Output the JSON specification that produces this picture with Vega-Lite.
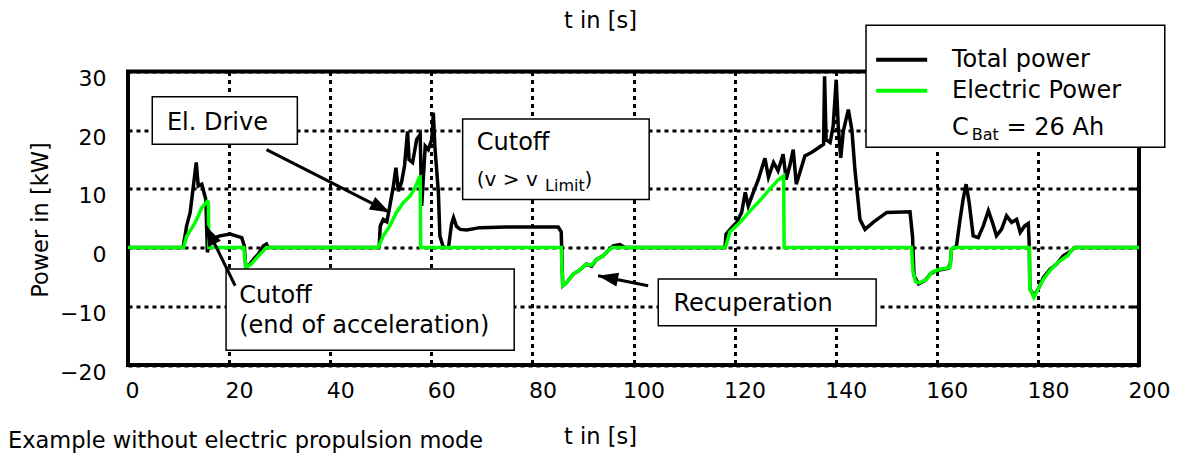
{
  "$schema": "https://vega.github.io/schema/vega-lite/v6.json",
  "width": 1011,
  "height": 293.5,
  "autosize": {"type": "none"},
  "padding": {"left": 128, "top": 71.5, "right": 47, "bottom": 91},
  "background": "white",
  "config": {
    "font": "DejaVu Sans",
    "view": {"stroke": "black", "strokeWidth": 4},
    "axis": {"labelFont": "DejaVu Sans", "titleFont": "DejaVu Sans", "labelFontSize": 22, "titleFontSize": 22.5, "titleFontWeight": "normal", "labelColor": "black", "titleColor": "black"},
    "title": {"font": "DejaVu Sans", "fontSize": 22.5, "fontWeight": "normal", "color": "black"}
  },
  "title": {"text": "Example without electric propulsion mode", "orient": "bottom", "anchor": "start", "frame": "group", "dx": -120, "baseline": "alphabetic", "offset": 0},
  "datasets": {
    "total": [
      {"t":0,"p":0},{"t":10.9,"p":0},{"t":11.6,"p":3.7},{"t":12.3,"p":6.0},{"t":13.5,"p":14.5},{"t":13.9,"p":10.5},{"t":14.6,"p":10.8},{"t":15.4,"p":8.2},{"t":15.7,"p":-0.8},{"t":16.2,"p":1.4},{"t":18.2,"p":2.0},{"t":20.2,"p":2.3},{"t":22.5,"p":1.7},{"t":23.0,"p":0.3},{"t":23.3,"p":-3.4},{"t":24.1,"p":-2.8},{"t":25.1,"p":-1.7},{"t":25.8,"p":-1.1},{"t":26.8,"p":0.3},{"t":27.4,"p":0.6},{"t":27.7,"p":0},
      {"t":49.5,"p":0},{"t":49.7,"p":0.3},{"t":49.9,"p":3.7},{"t":50.5,"p":4.8},{"t":51.2,"p":4.4},{"t":51.8,"p":7.1},{"t":52.5,"p":10.5},{"t":53.0,"p":13.6},{"t":53.5,"p":9.6},{"t":54.1,"p":11.1},{"t":54.7,"p":13.9},{"t":55.3,"p":19.8},{"t":55.6,"p":15.0},{"t":56.3,"p":14.5},{"t":57.1,"p":18.4},{"t":57.8,"p":19.3},{"t":58.1,"p":7.1},{"t":58.8,"p":17.3},{"t":59.4,"p":16.7},{"t":60.1,"p":18.4},{"t":60.4,"p":23.0},{"t":60.7,"p":17.3},{"t":61.4,"p":9.4},{"t":61.7,"p":2.0},{"t":62.4,"p":0},{"t":63.4,"p":0},{"t":64.0,"p":4.0},{"t":64.4,"p":5.1},{"t":65.0,"p":3.6},{"t":65.7,"p":3.1},{"t":67.0,"p":3.0},{"t":69.6,"p":3.4},{"t":74.9,"p":3.5},{"t":85.1,"p":3.5},{"t":85.7,"p":2.7},{"t":86.0,"p":-6.5},{"t":86.7,"p":-6.0},{"t":88.1,"p":-4.5},{"t":89.4,"p":-3.8},{"t":90.7,"p":-2.8},{"t":91.7,"p":-3.2},{"t":92.7,"p":-2.0},{"t":94.0,"p":-1.4},{"t":95.0,"p":-0.5},{"t":96.0,"p":0.3},{"t":97.3,"p":0.5},{"t":98.3,"p":0},
      {"t":118.1,"p":0},{"t":118.3,"p":2.3},{"t":119.1,"p":3.1},{"t":120.4,"p":4.3},{"t":121.4,"p":6.0},{"t":122.1,"p":9.4},{"t":122.7,"p":7.1},{"t":123.7,"p":9.4},{"t":124.7,"p":11.6},{"t":125.3,"p":13.3},{"t":126.0,"p":15.2},{"t":126.7,"p":12.0},{"t":127.7,"p":14.5},{"t":128.6,"p":13.1},{"t":129.6,"p":15.9},{"t":130.2,"p":11.6},{"t":130.9,"p":13.9},{"t":131.6,"p":16.7},{"t":132.2,"p":10.8},{"t":133.3,"p":13.9},{"t":133.9,"p":15.6},{"t":135.2,"p":16.2},{"t":136.6,"p":17.0},{"t":137.6,"p":17.6},{"t":137.8,"p":29.2},{"t":138.1,"p":18.4},{"t":138.9,"p":17.9},{"t":139.5,"p":20.7},{"t":140.1,"p":28.6},{"t":140.5,"p":20.7},{"t":141.0,"p":15.3},{"t":141.5,"p":19.8},{"t":142.5,"p":23.5},{"t":143.2,"p":20.1},{"t":143.8,"p":13.3},{"t":144.8,"p":4.8},{"t":145.8,"p":3.1},{"t":147.4,"p":4.3},{"t":150.1,"p":6.0},{"t":154.7,"p":6.1},{"t":155.2,"p":1.9},{"t":155.5,"p":-4.8},{"t":156.4,"p":-6.2},{"t":157.7,"p":-5.6},{"t":158.7,"p":-4.5},{"t":160.0,"p":-3.9},{"t":162.3,"p":-3.5},{"t":162.7,"p":-2.6},{"t":162.9,"p":-0.3},{"t":163.9,"p":0.3},{"t":164.6,"p":4.8},{"t":165.2,"p":8.2},{"t":165.8,"p":10.8},{"t":166.4,"p":7.7},{"t":167.2,"p":2.0},{"t":168.2,"p":1.7},{"t":169.2,"p":3.7},{"t":170.2,"p":6.3},{"t":171.0,"p":4.3},{"t":171.8,"p":2.0},{"t":172.8,"p":3.1},{"t":173.8,"p":5.4},{"t":174.8,"p":4.3},{"t":175.8,"p":4.8},{"t":176.5,"p":2.6},{"t":177.4,"p":3.7},{"t":178.1,"p":4.1},{"t":178.3,"p":0.3},{"t":178.4,"p":-7.0},{"t":179.2,"p":-8.2},{"t":180.1,"p":-7.0},{"t":181.1,"p":-5.1},{"t":182.4,"p":-3.7},{"t":183.7,"p":-2.8},{"t":185.0,"p":-1.4},{"t":186.0,"p":-0.9},{"t":186.6,"p":-0.5},{"t":187.3,"p":0},{"t":200,"p":0}
    ],
    "electric": [
      {"t":0,"p":0},{"t":11.0,"p":0},{"t":11.6,"p":1.9},{"t":13.3,"p":4.3},{"t":14.6,"p":6.8},{"t":15.7,"p":7.9},{"t":15.9,"p":7.7},{"t":16.0,"p":0},{"t":22.9,"p":0},{"t":23.3,"p":-3.4},{"t":24.4,"p":-2.8},{"t":25.5,"p":-1.7},{"t":26.4,"p":-0.9},{"t":27.4,"p":0},
      {"t":49.5,"p":0},{"t":50.5,"p":2.0},{"t":51.8,"p":3.7},{"t":53.1,"p":6.0},{"t":54.5,"p":7.7},{"t":55.8,"p":8.8},{"t":56.8,"p":10.2},{"t":57.6,"p":11.9},{"t":57.8,"p":12.0},{"t":57.9,"p":0},
      {"t":85.7,"p":0},{"t":86.0,"p":-6.5},{"t":86.7,"p":-6.0},{"t":88.1,"p":-4.5},{"t":89.4,"p":-3.8},{"t":90.7,"p":-2.8},{"t":91.7,"p":-3.0},{"t":92.7,"p":-2.0},{"t":94.0,"p":-1.4},{"t":95.0,"p":-0.5},{"t":95.8,"p":0},
      {"t":118.1,"p":0},{"t":118.3,"p":0.3},{"t":119.1,"p":2.7},{"t":121.1,"p":4.3},{"t":123.1,"p":6.3},{"t":125.0,"p":8.0},{"t":127.0,"p":10.0},{"t":128.6,"p":11.5},{"t":129.7,"p":12.2},{"t":129.8,"p":0},
      {"t":155.0,"p":0},{"t":155.3,"p":-4.2},{"t":155.8,"p":-5.8},{"t":156.5,"p":-6.0},{"t":158.0,"p":-5.4},{"t":159.0,"p":-4.2},{"t":160.6,"p":-3.7},{"t":162.6,"p":-3.4},{"t":162.9,"p":-0.3},{"t":163.2,"p":0},
      {"t":178.3,"p":0},{"t":178.4,"p":-7.0},{"t":179.2,"p":-8.5},{"t":180.4,"p":-6.5},{"t":181.1,"p":-5.4},{"t":182.4,"p":-3.9},{"t":184.0,"p":-2.5},{"t":185.3,"p":-1.7},{"t":185.9,"p":-1.4},{"t":186.6,"p":-0.5},{"t":187.3,"p":0},{"t":200,"p":0}
    ],
    "boxes": [
      {"t":4.8,"t2":33.5,"p":25.7,"p2":17.6},
      {"t":19.4,"t2":76.4,"p":-3.65,"p2":-17.5},
      {"t":66.2,"t2":103.1,"p":21.9,"p2":8.2},
      {"t":104.9,"t2":148.0,"p":-5.35,"p2":-13.3},
      {"t":146.0,"t2":205.1,"p":37.9,"p2":17.1}
    ],
    "arrows": [
      {"t":27.4,"p":16.7,"t2":51.8,"p2":6.0},
      {"t":21.2,"p":-6.5,"t2":15.4,"p2":3.7},
      {"t":102.9,"p":-6.5,"t2":93.0,"p2":-4.8}
    ],
    "legendLines": [
      {"s":"Total power","t":148.0,"t2":158.1,"p":32.0},
      {"s":"Electric Power","t":148.0,"t2":158.1,"p":26.7}
    ],
    "labels": [
      {"t":7.7,"p":21.3,"label":"El. Drive"},
      {"t":22.0,"p":-8.2,"label":"Cutoff"},
      {"t":22.0,"p":-13.3,"label":"(end of acceleration)"},
      {"t":69.0,"p":17.9,"label":"Cutoff"},
      {"t":107.9,"p":-9.6,"label":"Recuperation"},
      {"t":163.0,"p":32.0,"label":"Total power"},
      {"t":163.0,"p":26.7,"label":"Electric Power"},
      {"t":163.0,"p":20.4,"label":"C"},
      {"t":173.8,"p":20.4,"label":"= 26 Ah"}
    ],
    "smallLabels": [
      {"t":69.0,"p":11.6,"label":"(v > v"},
      {"t":90.3,"p":11.6,"label":")"}
    ],
    "subs": [
      {"t":82.5,"p":10.5,"label":"Limit"},
      {"t":166.9,"p":19.2,"label":"Bat"}
    ]
  },
  "layer": [
    {
      "data": {"name": "total"},
      "mark": {"type": "line", "strokeWidth": 3.5, "clip": false},
      "encoding": {
        "x": {"field": "t", "type": "quantitative", "scale": {"domain": [0, 200], "nice": false, "zero": false},
              "axis": {"orient": "bottom", "values": [0,20,40,60,80,100,120,140,160,180,200], "domain": false, "ticks": false, "tickSize": 0, "labelPadding": 15, "labelOffset": {"expr": "datum.value == 0 ? 4 : 10"}, "labelFlush": false, "labelOverlap": false, "grid": true, "gridColor": "black", "gridDash": [4, 4], "gridWidth": 3, "gridOpacity": 1, "title": "t in [s]", "titleX": 472, "titleY": 78, "titleBaseline": "alphabetic", "titleAnchor": "middle"}},
        "y": {"field": "p", "type": "quantitative", "scale": {"domain": [-20, 30], "nice": false, "zero": false},
              "axis": {"orient": "left", "values": [-20,-10,0,10,20,30], "domain": false, "ticks": false, "tickSize": 0, "labelPadding": 22, "labelOffset": 7, "labelFlush": false, "labelOverlap": false, "grid": true, "gridColor": "black", "gridDash": [4, 4], "gridWidth": 3, "gridOpacity": 1, "title": "Power in [kW]", "titleX": -81, "titleY": 148, "titleBaseline": "alphabetic", "titleAngle": -90, "titleAlign": "center"}},
        "color": {"datum": "Total power", "type": "nominal", "scale": {"domain": ["Total power", "Electric Power"], "range": ["black", "#00ff00"]}, "legend": null}
      }
    },
    {
      "data": {"name": "electric"},
      "mark": {"type": "line", "strokeWidth": 3.5, "clip": false},
      "encoding": {
        "x": {"field": "t", "type": "quantitative", "axis": {"orient": "top", "labels": false, "ticks": false, "domain": false, "grid": false, "title": "t in [s]", "titleX": 472, "titleY": -44.5, "titleBaseline": "alphabetic", "titleAnchor": "middle"}},
        "y": {"field": "p", "type": "quantitative", "axis": {"orient": "right", "values": [-10, 10, 20], "labels": false, "ticks": true, "tickSize": -8, "tickWidth": 3, "tickColor": "black", "domain": false, "grid": false, "title": null}},
        "color": {"datum": "Electric Power", "type": "nominal", "legend": null}
      }
    },
    {
      "data": {"name": "boxes"},
      "mark": {"type": "rect", "fill": "white", "stroke": "black", "strokeWidth": 1.5, "clip": false},
      "encoding": {
        "x": {"field": "t", "type": "quantitative", "axis": null},
        "x2": {"field": "t2"},
        "y": {"field": "p", "type": "quantitative", "axis": null},
        "y2": {"field": "p2"}
      }
    },
    {
      "data": {"name": "arrows"},
      "mark": {"type": "rule", "strokeWidth": 3, "color": "black", "clip": false},
      "encoding": {
        "x": {"field": "t", "type": "quantitative", "axis": null},
        "x2": {"field": "t2"},
        "y": {"field": "p", "type": "quantitative", "axis": null},
        "y2": {"field": "p2"}
      }
    },
    {
      "data": {"values": [{"t": 51.8, "p": 6.0}]},
      "mark": {"type": "point", "shape": "M0,0L-1.4,4L1.4,4Z", "filled": true, "color": "black", "opacity": 1, "size": 100, "angle": 117, "clip": false},
      "encoding": {"x": {"field": "t", "type": "quantitative", "axis": null}, "y": {"field": "p", "type": "quantitative", "axis": null}}
    },
    {
      "data": {"values": [{"t": 15.4, "p": 3.7}]},
      "mark": {"type": "point", "shape": "M0,0L-1.4,4L1.4,4Z", "filled": true, "color": "black", "opacity": 1, "size": 100, "angle": 334, "clip": false},
      "encoding": {"x": {"field": "t", "type": "quantitative", "axis": null}, "y": {"field": "p", "type": "quantitative", "axis": null}}
    },
    {
      "data": {"values": [{"t": 93.0, "p": -4.8}]},
      "mark": {"type": "point", "shape": "M0,0L-1.4,4L1.4,4Z", "filled": true, "color": "black", "opacity": 1, "size": 100, "angle": 281, "clip": false},
      "encoding": {"x": {"field": "t", "type": "quantitative", "axis": null}, "y": {"field": "p", "type": "quantitative", "axis": null}}
    },
    {
      "data": {"name": "legendLines"},
      "mark": {"type": "rule", "strokeWidth": 4, "clip": false},
      "encoding": {
        "x": {"field": "t", "type": "quantitative", "axis": null},
        "x2": {"field": "t2"},
        "y": {"field": "p", "type": "quantitative", "axis": null},
        "color": {"field": "s", "type": "nominal", "legend": null}
      }
    },
    {
      "data": {"name": "labels"},
      "mark": {"type": "text", "align": "left", "baseline": "middle", "fontSize": 24, "font": "DejaVu Sans", "color": "black", "clip": false},
      "encoding": {
        "x": {"field": "t", "type": "quantitative", "axis": null},
        "y": {"field": "p", "type": "quantitative", "axis": null},
        "text": {"field": "label"}
      }
    },
    {
      "data": {"name": "smallLabels"},
      "mark": {"type": "text", "align": "left", "baseline": "middle", "fontSize": 20, "font": "DejaVu Sans", "color": "black", "clip": false},
      "encoding": {
        "x": {"field": "t", "type": "quantitative", "axis": null},
        "y": {"field": "p", "type": "quantitative", "axis": null},
        "text": {"field": "label"}
      }
    },
    {
      "data": {"name": "subs"},
      "mark": {"type": "text", "align": "left", "baseline": "middle", "fontSize": 16, "font": "DejaVu Sans", "color": "black", "clip": false},
      "encoding": {
        "x": {"field": "t", "type": "quantitative", "axis": null},
        "y": {"field": "p", "type": "quantitative", "axis": null},
        "text": {"field": "label"}
      }
    }
  ],
  "resolve": {"axis": {"x": "independent", "y": "independent"}}
}
